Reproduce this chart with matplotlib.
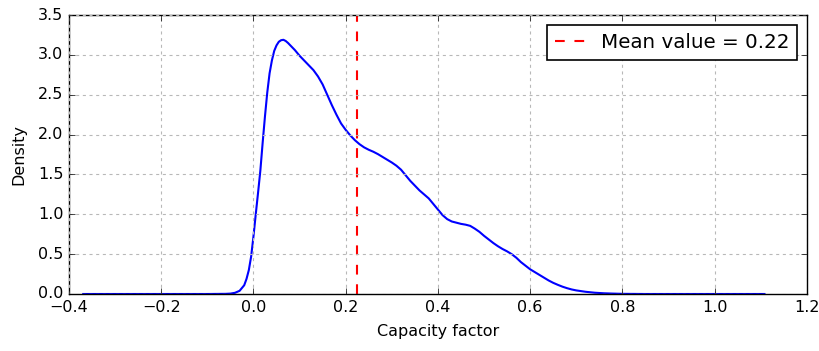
import numpy as np
import matplotlib
matplotlib.use("Agg")
import matplotlib.pyplot as plt

# density curve (capacity factor vs density)
cf = [-0.369, -0.30, -0.20, -0.10, -0.06, -0.05, -0.04, -0.03, -0.02, -0.015,
      -0.01, -0.005, 0.0, 0.005, 0.01, 0.015, 0.02, 0.025, 0.03, 0.035,
      0.04, 0.045, 0.05, 0.055, 0.06, 0.065, 0.07, 0.075, 0.08, 0.09,
      0.10, 0.11, 0.12, 0.13, 0.14, 0.15, 0.16, 0.17, 0.18, 0.19,
      0.20, 0.21, 0.22, 0.23, 0.24, 0.25, 0.26, 0.27, 0.28, 0.29,
      0.30, 0.31, 0.32, 0.33, 0.34, 0.35, 0.36, 0.37, 0.38, 0.39,
      0.40, 0.41, 0.42, 0.43, 0.44, 0.45, 0.46, 0.47, 0.48, 0.49,
      0.50, 0.51, 0.52, 0.53, 0.54, 0.55, 0.56, 0.57, 0.58, 0.59,
      0.60, 0.61, 0.62, 0.63, 0.64, 0.65, 0.66, 0.67, 0.68, 0.69,
      0.70, 0.72, 0.74, 0.76, 0.78, 0.80, 0.85, 0.95, 1.05, 1.108]
density = [0.0, 0.0, 0.0, 0.0, 0.002, 0.005, 0.015, 0.04, 0.11, 0.19,
           0.30, 0.47, 0.72, 1.0, 1.27, 1.55, 1.90, 2.23, 2.53, 2.77,
           2.93, 3.05, 3.12, 3.165, 3.185, 3.19, 3.175, 3.15, 3.12, 3.06,
           2.99, 2.93, 2.87, 2.81, 2.73, 2.63, 2.50, 2.37, 2.25, 2.14,
           2.06, 1.99, 1.93, 1.88, 1.84, 1.81, 1.785, 1.755, 1.72, 1.685,
           1.65, 1.61, 1.56, 1.49, 1.42, 1.36, 1.30, 1.25, 1.20, 1.13,
           1.06, 0.99, 0.94, 0.91, 0.895, 0.88, 0.87, 0.855, 0.82, 0.78,
           0.73, 0.685, 0.64, 0.60, 0.565, 0.535, 0.50, 0.455, 0.40, 0.355,
           0.31, 0.275, 0.24, 0.205, 0.17, 0.14, 0.115, 0.092, 0.073, 0.057,
           0.045, 0.028, 0.016, 0.009, 0.005, 0.002, 0.0, 0.0, 0.0, 0.0]
mean_cf = 0.224

plt.style.use("classic")
fig = plt.figure(figsize=(8.2, 3.51), dpi=100, facecolor="white")
ax = fig.add_axes([0.0841, 0.1624, 0.8999, 0.7946])

ax.plot(cf, density, color="blue", linewidth=1.5)
ax.axvline(mean_cf, color="red", linestyle=(0, (7, 7)), linewidth=1.5,
           label="Mean value = %.2f" % mean_cf)

ax.set_xlim(-0.4, 1.2)
ax.set_ylim(0, 3.5)
ax.set_xticks(np.arange(-0.4, 1.21, 0.2))
ax.set_yticks(np.arange(0, 3.51, 0.5))
ax.tick_params(labelsize=11.5)
ax.grid(True, color="0.72", linestyle=(0, (2.2, 2.6)), linewidth=0.8)
ax.set_xlabel("Capacity factor", fontsize=11.5, labelpad=7)
ax.set_ylabel("Density", fontsize=11.5, labelpad=8)

leg = ax.legend(loc="upper right", fontsize=14.3, numpoints=1, handlelength=1.5)
leg.get_frame().set_linewidth(1.2)

fig.savefig("out.png", dpi=100, facecolor="white")
